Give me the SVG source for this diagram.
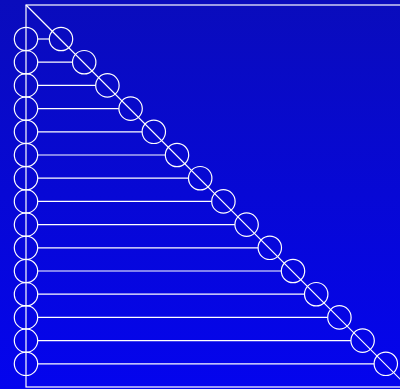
<svg xmlns="http://www.w3.org/2000/svg" width="400" height="389" viewBox="0 0 400 389">
<defs>
<linearGradient id="bg" x1="0" y1="0" x2="0" y2="1">
<stop offset="0" stop-color="#0a0cbc"/>
<stop offset="1" stop-color="#0404ee"/>
</linearGradient>
</defs>
<style>
.c{fill:none;stroke:#ffffff;stroke-width:1.2}
.l{fill:none;stroke:#ffffff;stroke-width:1.2}
</style>
<rect x="0" y="0" width="400" height="389" fill="url(#bg)"/>
<g id="frame">
<rect class="l" x="26" y="5" width="400" height="382"/>
<line class="l" x1="26" y1="5" x2="410" y2="389"/>
</g>
<g id="connectors">
<line class="l" x1="37.7" y1="39" x2="49.3" y2="39"/>
<line class="l" x1="37.7" y1="62.2" x2="72.5" y2="62.2"/>
<line class="l" x1="37.7" y1="85.4" x2="95.7" y2="85.4"/>
<line class="l" x1="37.7" y1="108.6" x2="118.9" y2="108.6"/>
<line class="l" x1="37.7" y1="131.8" x2="142.1" y2="131.8"/>
<line class="l" x1="37.7" y1="155" x2="165.3" y2="155"/>
<line class="l" x1="37.7" y1="178.2" x2="188.5" y2="178.2"/>
<line class="l" x1="37.7" y1="201.4" x2="211.7" y2="201.4"/>
<line class="l" x1="37.7" y1="224.6" x2="234.9" y2="224.6"/>
<line class="l" x1="37.7" y1="247.8" x2="258.1" y2="247.8"/>
<line class="l" x1="37.7" y1="271" x2="281.3" y2="271"/>
<line class="l" x1="37.7" y1="294.2" x2="304.5" y2="294.2"/>
<line class="l" x1="37.7" y1="317.4" x2="327.7" y2="317.4"/>
<line class="l" x1="37.7" y1="340.6" x2="350.9" y2="340.6"/>
<line class="l" x1="37.7" y1="363.8" x2="374.1" y2="363.8"/>
</g>
<g id="left-nodes">
<g id="l0"><circle class="c" cx="26" cy="39" r="11.7"/></g>
<g id="l1"><circle class="c" cx="26" cy="62.2" r="11.7"/></g>
<g id="l2"><circle class="c" cx="26" cy="85.4" r="11.7"/></g>
<g id="l3"><circle class="c" cx="26" cy="108.6" r="11.7"/></g>
<g id="l4"><circle class="c" cx="26" cy="131.8" r="11.7"/></g>
<g id="l5"><circle class="c" cx="26" cy="155" r="11.7"/></g>
<g id="l6"><circle class="c" cx="26" cy="178.2" r="11.7"/></g>
<g id="l7"><circle class="c" cx="26" cy="201.4" r="11.7"/></g>
<g id="l8"><circle class="c" cx="26" cy="224.6" r="11.7"/></g>
<g id="l9"><circle class="c" cx="26" cy="247.8" r="11.7"/></g>
<g id="l10"><circle class="c" cx="26" cy="271" r="11.7"/></g>
<g id="l11"><circle class="c" cx="26" cy="294.2" r="11.7"/></g>
<g id="l12"><circle class="c" cx="26" cy="317.4" r="11.7"/></g>
<g id="l13"><circle class="c" cx="26" cy="340.6" r="11.7"/></g>
<g id="l14"><circle class="c" cx="26" cy="363.8" r="11.7"/></g>
</g>
<g id="diag-nodes">
<g id="d0"><circle class="c" cx="61" cy="39" r="11.7"/></g>
<g id="d1"><circle class="c" cx="84.2" cy="62.2" r="11.7"/></g>
<g id="d2"><circle class="c" cx="107.4" cy="85.4" r="11.7"/></g>
<g id="d3"><circle class="c" cx="130.6" cy="108.6" r="11.7"/></g>
<g id="d4"><circle class="c" cx="153.8" cy="131.8" r="11.7"/></g>
<g id="d5"><circle class="c" cx="177" cy="155" r="11.7"/></g>
<g id="d6"><circle class="c" cx="200.2" cy="178.2" r="11.7"/></g>
<g id="d7"><circle class="c" cx="223.4" cy="201.4" r="11.7"/></g>
<g id="d8"><circle class="c" cx="246.6" cy="224.6" r="11.7"/></g>
<g id="d9"><circle class="c" cx="269.8" cy="247.8" r="11.7"/></g>
<g id="d10"><circle class="c" cx="293" cy="271" r="11.7"/></g>
<g id="d11"><circle class="c" cx="316.2" cy="294.2" r="11.7"/></g>
<g id="d12"><circle class="c" cx="339.4" cy="317.4" r="11.7"/></g>
<g id="d13"><circle class="c" cx="362.6" cy="340.6" r="11.7"/></g>
<g id="d14"><circle class="c" cx="385.8" cy="363.8" r="11.7"/></g>
</g>
</svg>
